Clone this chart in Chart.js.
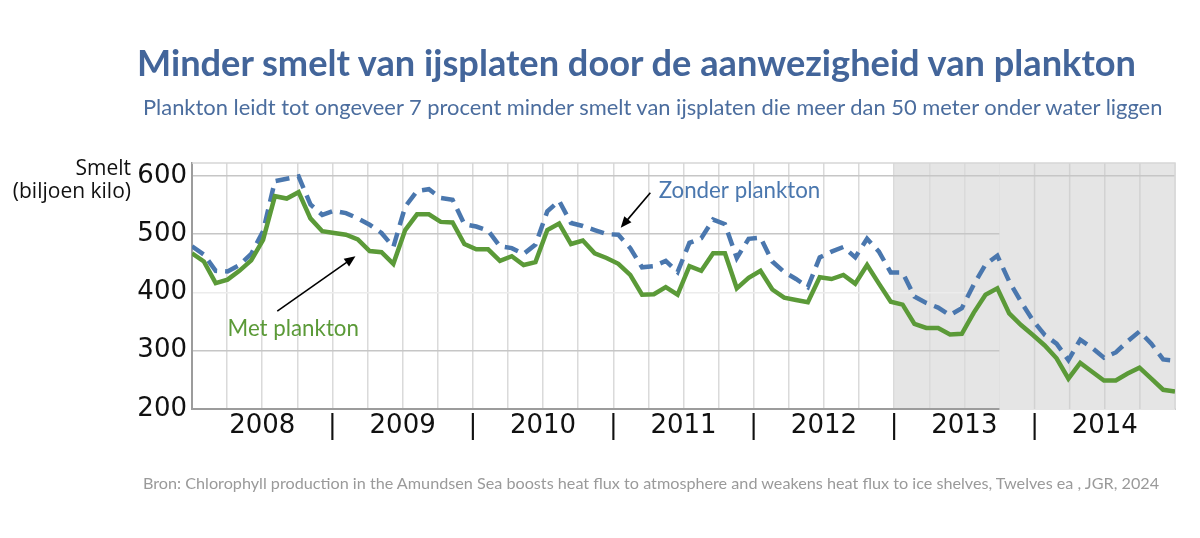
<!DOCTYPE html>
<html>
<head>
<meta charset="utf-8">
<script src="https://cdn.jsdelivr.net/npm/chart.js@4"></script>
<style>
  body { margin: 0; background: #fff; }
  #wrap { position: relative; width: 1200px; height: 538px; }
  #chart { position: absolute; left: 0; top: 0; }
  .txt { position: absolute; white-space: nowrap; font-family: Lato, "Open Sans", sans-serif; }
  #title { left: 137px; top: 40px; font-size: 36.2px; font-weight: bold; color: #43659a; }
  #subtitle { left: 143px; top: 93px; font-size: 21.9px; color: #4b6d9e; }
  #source { left: 143px; top: 473px; font-size: 16.2px; color: #9a9a9a; }
  #ylab { left: 0; top: 156px; width: 131px; text-align: right; font-family: "Open Sans", sans-serif; font-size: 21px; line-height: 23px; color: #111; }
</style>
</head>
<body>
<div id="wrap">
  <canvas id="chart" width="1200" height="538"></canvas>
  <div class="txt" id="title">Minder smelt van ijsplaten door de aanwezigheid van plankton</div>
  <div class="txt" id="subtitle">Plankton leidt tot ongeveer 7 procent minder smelt van ijsplaten die meer dan 50 meter onder water liggen</div>
  <div class="txt" id="ylab">Smelt<br>(biljoen kilo)</div>
  <div class="txt" id="source">Bron: Chlorophyll production in the Amundsen Sea boosts heat flux to atmosphere and weakens heat flux to ice shelves, Twelves ea , JGR, 2024</div>
</div>
<script>
// monthly values, Jan 2008 - Dec 2014
const years = ['2008', '2009', '2010', '2011', '2012', '2013', '2014'];
const yTicks = [200, 300, 400, 500, 600];

const metPlankton = [
    467, 453, 416, 422, 437, 455, 490, 565, 561, 572, 527, 505,
    502, 499, 491, 471, 469, 449, 507, 534, 534, 521, 520, 483,
    474, 474, 454, 462, 447, 452, 507, 518, 483, 489, 467, 459,
    449, 430, 396, 397, 409, 396, 445, 437, 467, 467, 407, 425,
    437, 405, 391, 387, 383, 426, 423, 430, 415, 447, 415, 384,
    379, 346, 339, 339, 328, 329, 365, 396, 407, 364, 344, 327,
    309, 287, 252, 279, 264, 249, 249, 261, 271, 252, 233, 230
];

const zonderPlankton = [
    479, 465, 437, 436, 447, 466, 505, 591, 595, 599, 551, 533,
    540, 536, 527, 516, 502, 478, 547, 574, 577, 562, 559, 517,
    513, 506, 479, 476, 466, 482, 539, 557, 519, 514, 507, 500,
    499, 476, 443, 445, 454, 435, 485, 493, 525, 517, 459, 492,
    494, 453, 435, 423, 409, 460, 470, 478, 460, 492, 470, 434,
    434, 393, 382, 374, 361, 373, 413, 448, 463, 419, 384, 352,
    327, 312, 284, 319, 305, 288, 297, 316, 333, 312, 285, 283
];

const lastMonth = metPlankton.length - 1;
const quarters = years.length * 4;
const shadeFrom = 20;     // quarter index where the shaded period starts
const gridCutAt = 23;     // quarter index where the lower grid lines stop

const greenColor = '#5b9a38';
const blueColor = '#4a77ae';
const gridColor = '#dadada';

function quarterValue(i) {
    return i * lastMonth / quarters;
}

const shading = {
    id: 'shading',
    beforeDraw(chart) {
        const {ctx, chartArea: a, scales: {x}} = chart;
        const x0 = x.getPixelForValue(quarterValue(shadeFrom));
        ctx.save();
        ctx.fillStyle = '#e5e5e5';
        ctx.fillRect(x0, a.top, a.right - x0, a.bottom - a.top);
        ctx.restore();
    },
    beforeDatasetsDraw(chart) {
        const {ctx, chartArea: a, scales: {x, y}} = chart;
        const x1 = x.getPixelForValue(quarterValue(gridCutAt));
        ctx.save();
        ctx.fillStyle = '#e5e5e5';
        ctx.fillRect(x1, a.top, a.right - x1, a.bottom - a.top + 1);
        ctx.strokeStyle = '#d2d2d2';
        ctx.lineWidth = 1.5;
        for (let i = gridCutAt + 1; i < quarters; i++) {
            const px = x.getPixelForValue(quarterValue(i));
            ctx.beginPath();
            ctx.moveTo(px, a.top);
            ctx.lineTo(px, a.bottom);
            ctx.stroke();
        }
        ctx.strokeStyle = '#c6c6c6';
        const py = y.getPixelForValue(600);
        ctx.beginPath();
        ctx.moveTo(x1, py);
        ctx.lineTo(a.right, py);
        ctx.stroke();
        // frame top and right
        ctx.strokeStyle = '#d6d6d6';
        ctx.beginPath();
        ctx.moveTo(a.left, a.top);
        ctx.lineTo(a.right, a.top);
        ctx.lineTo(a.right, a.bottom);
        ctx.stroke();
        ctx.restore();
    }
};

function arrow(ctx, x0, y0, x1, y1) {
    const ang = Math.atan2(y1 - y0, x1 - x0);
    ctx.beginPath();
    ctx.moveTo(x0, y0);
    ctx.lineTo(x1 - 6 * Math.cos(ang), y1 - 6 * Math.sin(ang));
    ctx.stroke();
    ctx.beginPath();
    ctx.moveTo(x1, y1);
    ctx.lineTo(x1 - 12 * Math.cos(ang - 0.4), y1 - 12 * Math.sin(ang - 0.4));
    ctx.lineTo(x1 - 12 * Math.cos(ang + 0.4), y1 - 12 * Math.sin(ang + 0.4));
    ctx.closePath();
    ctx.fill();
}

const labels = {
    id: 'labels',
    afterDatasetsDraw(chart) {
        const {ctx, scales: {x, y}} = chart;
        ctx.save();
        ctx.strokeStyle = '#000';
        ctx.fillStyle = '#000';
        ctx.lineWidth = 1.6;
        arrow(ctx, x.getPixelForValue(38.7), y.getPixelForValue(571),
                   x.getPixelForValue(36.2), y.getPixelForValue(511));
        arrow(ctx, x.getPixelForValue(7.2), y.getPixelForValue(368),
                   x.getPixelForValue(13.8), y.getPixelForValue(462));
        ctx.font = '22.3px Lato, "Open Sans", sans-serif';
        ctx.textBaseline = 'middle';
        ctx.fillStyle = blueColor;
        ctx.fillText('Zonder plankton', x.getPixelForValue(39.4), y.getPixelForValue(575));
        ctx.fillStyle = greenColor;
        ctx.fillText('Met plankton', x.getPixelForValue(3.0), y.getPixelForValue(338));
        ctx.restore();
    }
};

let ctx = document.getElementById('chart');
let chart = new Chart(ctx, {
    type: 'line',
    data: {
        datasets: [{
            label: 'Met plankton',
            data: metPlankton.map((v, i) => ({x: i, y: v})),
            borderColor: greenColor,
            borderWidth: 4.5,
            pointRadius: 0,
            tension: 0,
        }, {
            label: 'Zonder plankton',
            data: zonderPlankton.map((v, i) => ({x: i, y: v})),
            borderColor: blueColor,
            borderWidth: 4.5,
            borderDash: [14, 8],
            pointRadius: 0,
            tension: 0,
        }]
    },
    options: {
        responsive: false,
        animation: false,
        layout: {
            padding: {left: 0, top: 163, right: 25, bottom: 79}
        },
        plugins: {
            legend: {display: false},
            tooltip: {enabled: false},
        },
        scales: {
            x: {
                type: 'linear',
                min: 0,
                max: lastMonth,
                afterBuildTicks: (scale) => {
                    scale.ticks = Array.from({length: quarters + 1}, (_, i) => ({value: quarterValue(i)}));
                },
                afterFit: (scale) => { scale.height = 50; },
                grid: {
                    color: gridColor,
                    lineWidth: 1.5,
                    drawTicks: false,
                },
                border: {color: '#9c9c9c', width: 2},
                ticks: {
                    autoSkip: false,
                    maxRotation: 0,
                    minRotation: 0,
                    padding: 2,
                    color: '#111',
                    font: {family: 'DejaVu Sans', size: 26},
                    callback: (value, index) => {
                        if (index % 4 === 2) return years[(index - 2) / 4];
                        if (index % 4 === 0 && index > 0 && index < quarters) return '|';
                        return '';
                    }
                }
            },
            y: {
                min: 200,
                max: 622,
                afterBuildTicks: (scale) => {
                    scale.ticks = yTicks.map(v => ({value: v}));
                },
                afterFit: (scale) => { scale.width = 192; },
                grid: {
                    color: (c) => c.tick && c.tick.value === 400 ? '#ececec' : '#c6c6c6',
                    lineWidth: 1.5,
                    drawTicks: false,
                },
                border: {color: '#9c9c9c', width: 2},
                ticks: {
                    padding: 5,
                    color: '#111',
                    font: {family: 'DejaVu Sans', size: 26},
                }
            }
        }
    },
    plugins: [shading, labels],
});
</script>
</body>
</html>
